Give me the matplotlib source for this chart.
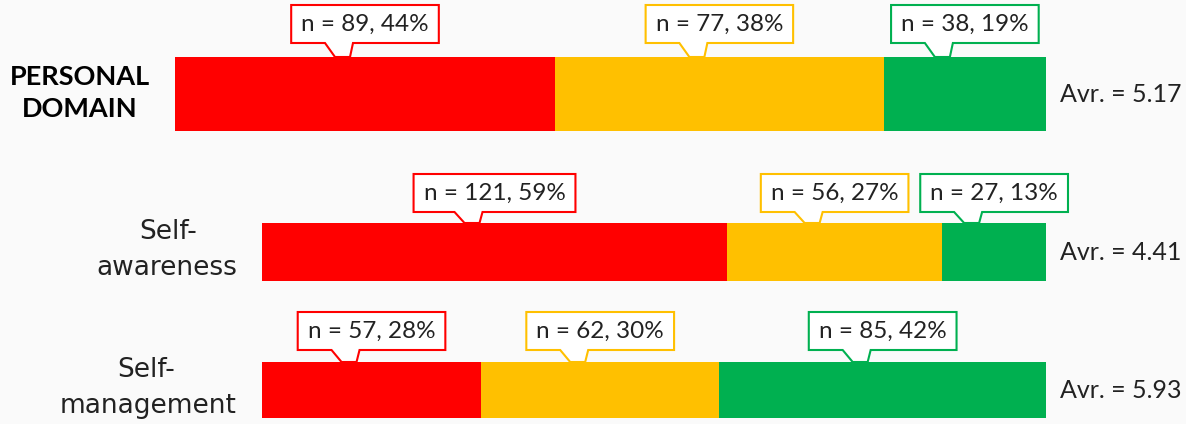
import matplotlib
matplotlib.use('Agg')
import matplotlib.pyplot as plt
from matplotlib.patches import Polygon
from matplotlib.transforms import IdentityTransform

# Data
rows = [('PERSONAL', 'DOMAIN'), ('Self-', 'awareness'), ('Self-', 'management')]
low = [89, 121, 57]
mid = [77, 56, 62]
high = [38, 27, 85]
averages = [5.17, 4.41, 5.93]
colors = ['#FF0000', '#FFC000', '#00B050']

plt.rcParams['font.family'] = ['Lato', 'DejaVu Sans']

W, H = 1186, 424
bg = '#FAFAFA'
fig = plt.figure(figsize=(W / 100, H / 100), dpi=100, facecolor=bg)

# bar frames in pixels: left, top, right, bottom
frames = [(175, 57, 1046, 131), (262, 223, 1046, 281), (262, 362, 1046, 418)]
gaps = [14, 11, 12]
# label line positions in pixels from top: (x1, y1, x2, y2, align of 2nd line)
label_pos = [(80, 77, 80, 109, 'center'),
             (168, 232, 237, 268, 'right'),
             (146, 370, 237, 406, 'right')]

renderer = fig.canvas.get_renderer()
ident = IdentityTransform()

for i, (l, t, r, b) in enumerate(frames):
    ax = fig.add_axes([l / W, 1 - b / H, (r - l) / W, (b - t) / H])
    ax.axis('off')
    counts = [low[i], mid[i], high[i]]
    total = sum(counts)
    ax.set_xlim(0, total)
    ax.set_ylim(0, 1)

    left = 0
    for c, col in zip(counts, colors):
        ax.barh(0.5, c, left=left, height=1, color=col, edgecolor='none')

        # callout above the segment
        cx, ytop = ax.transData.transform((left + c / 2, 1))
        yb = ytop + gaps[i]
        yt = yb + 38
        txt = fig.text(cx, (yb + yt) / 2, f'n = {c}, {round(c / total * 100)}%',
                       transform=ident, ha='center', va='center', fontsize=17.5,
                       color='#222222', zorder=5)
        tw = txt.get_window_extent(renderer).width
        x0, x1 = cx - tw / 2 - 10, cx + tw / 2 + 10
        shape = [(x0, yb), (cx - 40, yb), (cx - 30, ytop), (cx - 15, ytop),
                 (cx - 12, yb), (x1, yb), (x1, yt), (x0, yt)]
        fig.add_artist(Polygon(shape, closed=True, transform=ident,
                               facecolor='white', edgecolor=col, lw=1.5, zorder=4))
        left += c

    ax.annotate(f'Avr. = {averages[i]:.2f}', xy=(1, 0.5), xycoords='axes fraction',
                xytext=(10, 0), textcoords='offset points', va='center', ha='left',
                fontsize=18, color='#222222')

    # row labels
    x1, y1, x2, y2, al = label_pos[i]
    if i == 0:
        kw = dict(fontsize=19.5, fontweight='bold', color='black')
    else:
        kw = dict(fontsize=19, color='#222222', family='DejaVu Sans')
    fig.text(x1, H - y1, rows[i][0], transform=ident, ha='center', va='center', **kw)
    fig.text(x2, H - y2, rows[i][1], transform=ident, ha=al, va='center', **kw)

fig.savefig('out.png', dpi=100, facecolor=bg)
